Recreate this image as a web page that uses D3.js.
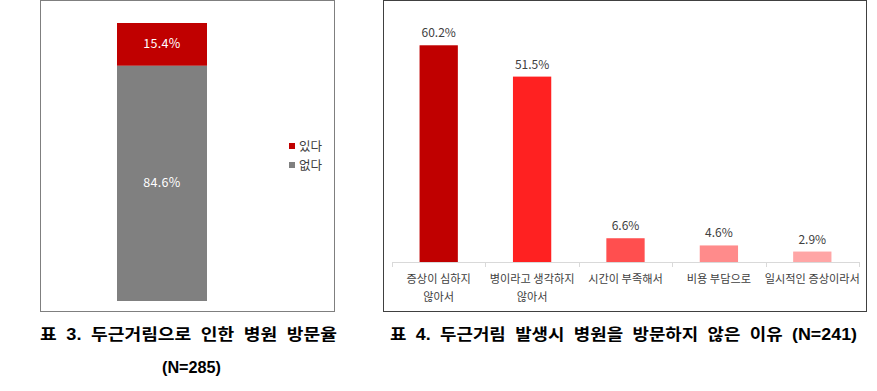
<!DOCTYPE html>
<html>
<head>
<meta charset="utf-8">
<script src="https://cdn.jsdelivr.net/npm/d3@7"></script>
<style>
  body { margin: 0; background: #fff; }
  text { font-family: "Noto Sans CJK KR", "Noto Sans", sans-serif; }
</style>
</head>
<body>
<svg width="877" height="391"></svg>
<script>
// chart 3: hospital visit rate (stacked)
const visitKeys = ['있다', '없다'];
const visitValues = [15.4, 84.6];
const visitColors = ['#c00000', '#808080'];

// chart 4: reasons for not visiting
const reasons = [['증상이 심하지', '않아서'], ['병이라고 생각하지', '않아서'], ['시간이 부족해서'], ['비용 부담으로'], ['일시적인 증상이라서']];
const reasonValues = [60.2, 51.5, 6.6, 4.6, 2.9];
const reasonColors = ['#c00000', '#ff2121', '#ff4f4f', '#ff8b8b', '#ffa6a6'];

const captions = ['표 3. 두근거림으로 인한 병원 방문율', '표 4. 두근거림 발생시 병원을 방문하지 않은 이유 (N=241)'];

const svg = d3.select('svg');

// ---- left panel
svg.append('rect')
    .attr('x', 40.5).attr('y', 0.5)
    .attr('width', 294).attr('height', 311)
    .attr('fill', 'none').attr('stroke', '#7f7f7f');

const yL = d3.scaleLinear().domain([0, 100]).range([301, 23]);

let acc = 0;
const stacked = visitValues.map((v, i) => {
    const s = { key: visitKeys[i], y0: 100 - acc - v, y1: 100 - acc, v: v, c: visitColors[i] };
    acc += v;
    return s;
});

svg.append('g').selectAll('rect')
    .data(stacked)
    .enter()
    .append('rect')
    .attr('x', 117)
    .attr('width', 90)
    .attr('y', d => yL(d.y1))
    .attr('height', d => yL(d.y0) - yL(d.y1))
    .attr('fill', d => d.c);

svg.append('g').selectAll('text')
    .data(stacked)
    .enter()
    .append('text')
    .attr('x', 162)
    .attr('y', d => (yL(d.y1) + yL(d.y0)) / 2 + 4)
    .attr('text-anchor', 'middle')
    .attr('fill', '#fff')
    .style('font-size', '12.5px')
    .style('letter-spacing', '0.3px')
    .text(d => d.v.toFixed(1) + '%');

const legend = svg.append('g').selectAll('g')
    .data(stacked)
    .enter()
    .append('g')
    .attr('transform', (d, i) => `translate(289, ${146 + i * 19})`);
legend.append('rect')
    .attr('x', 0).attr('y', -3)
    .attr('width', 6).attr('height', 6)
    .attr('fill', d => d.c);
legend.append('text')
    .attr('x', 10).attr('y', 4.5)
    .attr('fill', '#404040')
    .style('font-size', '12.5px')
    .text(d => d.key);

// ---- right panel
svg.append('rect')
    .attr('x', 383.5).attr('y', 0.5)
    .attr('width', 483).attr('height', 311)
    .attr('fill', 'none').attr('stroke', '#404040');

const xR = d3.scaleBand()
    .domain(d3.range(reasonValues.length))
    .range([392, 859])
    .paddingInner(0.59)
    .paddingOuter(0.295);
const yR = d3.scaleLinear().domain([0, 70]).range([262, 10]);

svg.append('g').selectAll('rect')
    .data(reasonValues)
    .enter()
    .append('rect')
    .attr('x', (d, i) => xR(i))
    .attr('width', xR.bandwidth())
    .attr('y', d => yR(d))
    .attr('height', d => yR(0) - yR(d))
    .attr('fill', (d, i) => reasonColors[i]);

svg.append('g').selectAll('text')
    .data(reasonValues)
    .enter()
    .append('text')
    .attr('x', (d, i) => xR(i) + xR.bandwidth() / 2)
    .attr('y', d => yR(d) - 8)
    .attr('text-anchor', 'middle')
    .attr('fill', '#404040')
    .style('font-size', '12px')
    .text(d => d.toFixed(1) + '%');

// axis line and ticks between categories
svg.append('line')
    .attr('x1', 392).attr('x2', 859)
    .attr('y1', 262.5).attr('y2', 262.5)
    .attr('stroke', '#d9d9d9');
svg.append('g').selectAll('line')
    .data(d3.range(reasonValues.length + 1))
    .enter()
    .append('line')
    .attr('x1', i => Math.round(392 + i * (467 / reasonValues.length)) + 0.5)
    .attr('x2', i => Math.round(392 + i * (467 / reasonValues.length)) + 0.5)
    .attr('y1', 262).attr('y2', 267)
    .attr('stroke', '#d9d9d9');

const cat = svg.append('g').selectAll('text')
    .data(reasons)
    .enter()
    .append('text')
    .attr('x', (d, i) => xR(i) + xR.bandwidth() / 2)
    .attr('y', 283)
    .attr('text-anchor', 'middle')
    .attr('fill', '#404040')
    .style('font-size', '11.2px');
cat.selectAll('tspan')
    .data((d, i) => d.map(t => ({ t: t, x: xR(i) + xR.bandwidth() / 2 })))
    .enter()
    .append('tspan')
    .attr('x', d => d.x)
    .attr('dy', (d, j) => j === 0 ? 0 : 18)
    .text(d => d.t);

// ---- captions (condensed bold)
const capStyle = sel => sel
    .attr('fill', '#000')
    .style('font-family', '"Liberation Sans Narrow", "Liberation Sans", "Noto Sans CJK KR", sans-serif')
    .style('font-weight', 'bold')
    .style('font-size', '16px')
    .style('word-spacing', '4px');

svg.append('text')
    .attr('x', 40).attr('y', 340)
    .call(capStyle)
    .attr('textLength', 297).attr('lengthAdjust', 'spacingAndGlyphs')
    .text(captions[0]);
svg.append('text')
    .attr('x', 162).attr('y', 373)
    .call(capStyle)
    .attr('textLength', 59).attr('lengthAdjust', 'spacingAndGlyphs')
    .text('(N=285)');
svg.append('text')
    .attr('x', 390).attr('y', 340)
    .call(capStyle)
    .attr('textLength', 467).attr('lengthAdjust', 'spacingAndGlyphs')
    .text(captions[1]);
</script>
</body>
</html>
